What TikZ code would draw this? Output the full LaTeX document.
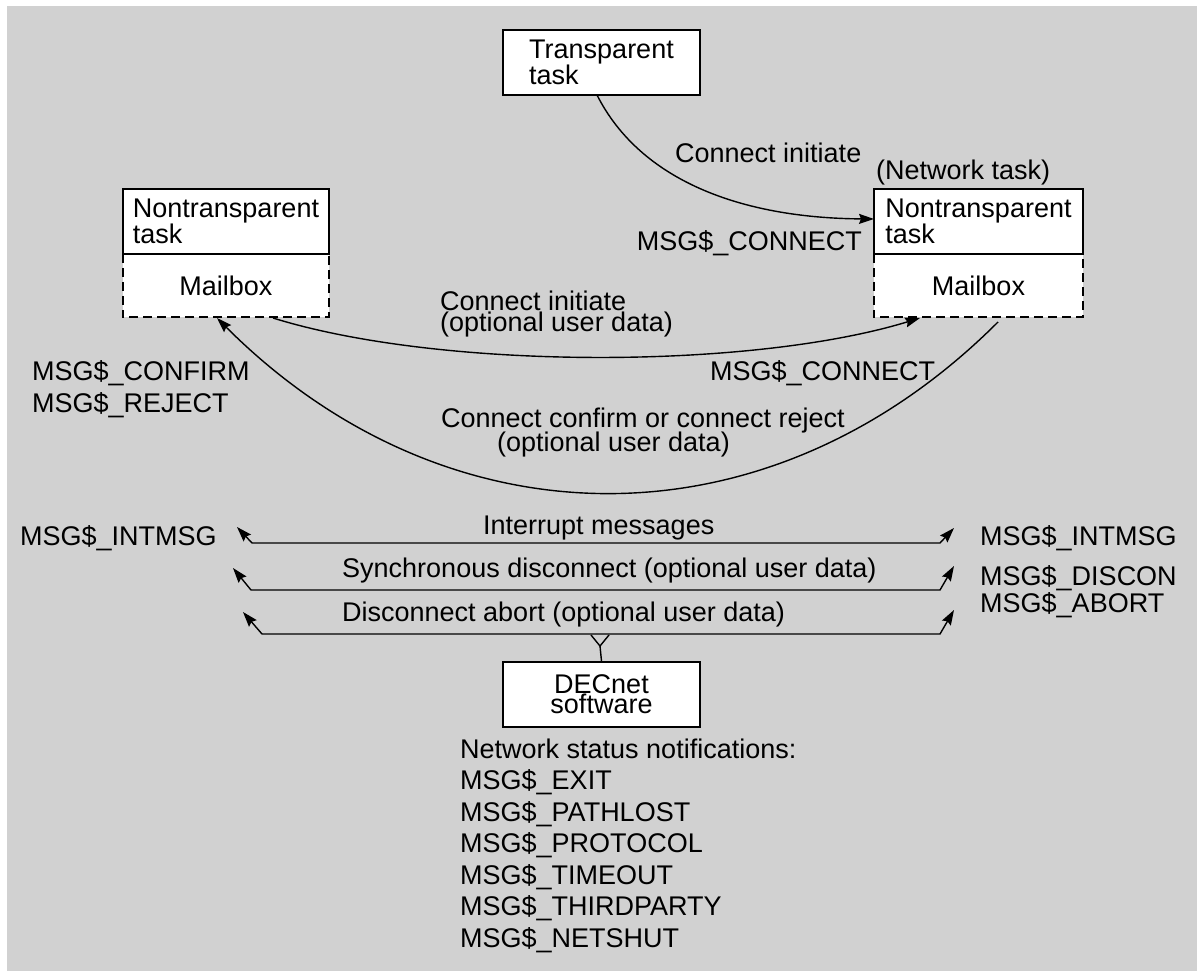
\documentclass[tikz,border=0pt]{standalone}
\usepackage{fontspec}
\setmainfont{Liberation Sans}
\usetikzlibrary{arrows.meta}
\begin{document}
\begin{tikzpicture}[x=1pt,y=-1pt,
  every node/.style={font=\fontsize{27}{20}\selectfont, inner sep=0pt},
  box/.style={draw, line width=1.8pt, fill=white, align=left, minimum height=65pt},
  mail/.style={fill=white, minimum height=63pt},
  dashedge/.style={line width=1.8pt, dash pattern=on 9pt off 5pt},
  lbl/.style={anchor=base west},
  conn/.style={line width=1.4pt},
  tip/.style={-{Stealth[length=15pt,width=10pt,inset=2pt]}},
  bitip/.style={{Stealth[length=15pt,width=10pt,inset=2pt]}-{Stealth[length=15pt,width=10pt,inset=2pt]}},
  ]
\useasboundingbox (0,0) rectangle (1197,971);
\fill[black!18] (7,6) rectangle (1197,971);

% boxes
\node[box, minimum width=197pt] (tt) at (601.5,62.5) {Transparent\\task};

\node[mail, minimum width=206pt] (lm) at (226,285.5) {Mailbox};
\draw[dashedge] (lm.north west) -- (lm.south west) -- (lm.south east) -- (lm.north east);
\node[box, minimum width=206pt] (lt) at (226,221.5) {Nontransparent\\task};

\node[mail, minimum width=209pt] (rm) at (978.5,285.5) {Mailbox};
\draw[dashedge] (rm.north west) -- (rm.south west) -- (rm.south east) -- (rm.north east);
\node[box, minimum width=209pt] (rt) at (978.5,221.5) {Nontransparent\\task};

\node[box, align=center, minimum width=197pt] (dec) at (601.5,694.5) {DECnet\\software};

% labels
\node[lbl] (l1) at (675,163) {Connect initiate};
\node[lbl] (l2) at (876,179) {(Network task)};
\node[anchor=base east] (l3) at (862,250) {MSG\$\_CONNECT};
\node[lbl] (l4) at (440,310) {Connect initiate};
\node[lbl] (l5) at (440,331) {(optional user data)};
\node[lbl] (l6) at (710,380) {MSG\$\_CONNECT};
\node[lbl] (l7) at (32,380) {MSG\$\_CONFIRM};
\node[lbl] (l8) at (32,412) {MSG\$\_REJECT};
\node[anchor=base east] (l9) at (845,427) {Connect confirm or connect reject};
\node[anchor=base east] (l10) at (730,451) {(optional user data)};
\node[lbl] (l11) at (483,534) {Interrupt messages};
\node[lbl] (l12) at (20,545) {MSG\$\_INTMSG};
\node[lbl] (l13) at (980,545) {MSG\$\_INTMSG};
\node[lbl] (l14) at (342,577) {Synchronous disconnect (optional user data)};
\node[lbl] (l15) at (980,585) {MSG\$\_DISCON};
\node[lbl] (l16) at (342,621) {Disconnect abort (optional user data)};
\node[lbl] (l17) at (980,612) {MSG\$\_ABORT};

\node[lbl] (n0) at (460,758) {Network status notifications:};
\node[lbl] (n1) at (460,789.5) {MSG\$\_EXIT};
\node[lbl] (n2) at (460,821) {MSG\$\_PATHLOST};
\node[lbl] (n3) at (460,852.5) {MSG\$\_PROTOCOL};
\node[lbl] (n4) at (460,884) {MSG\$\_TIMEOUT};
\node[lbl] (n5) at (460,915.5) {MSG\$\_THIRDPARTY};
\node[lbl] (n6) at (460,947) {MSG\$\_NETSHUT};

% connector end points
\coordinate (c1s) at (597,95);
\coordinate (c1e) at (874,219);
\coordinate (c2s) at (273,318);
\coordinate (c2e) at (920,318);
\coordinate (c3s) at (998,322);
\coordinate (c3e) at (217,318);

\draw[conn, tip] (c1s) .. controls (640,180) and (740,218) .. (c1e);
\draw[conn, tip] (c2s) .. controls (440,370) and (750,370) .. (c2e);
\draw[conn, tip] (c3s) .. controls (768,552) and (447,548) .. (c3e);

% horizontal message lines
\coordinate (a1) at (237,527); \coordinate (a2) at (252,543);
\coordinate (a3) at (940,543); \coordinate (a4) at (954,528);
\coordinate (b1) at (233,568); \coordinate (b2) at (251,590);
\coordinate (b3) at (940,590); \coordinate (b4) at (954,566);
\coordinate (d1) at (243,612); \coordinate (d2) at (262,634);
\coordinate (d3) at (940,634); \coordinate (d4) at (954,610);
\draw[conn, bitip] (a1) -- (a2) -- (a3) -- (a4);
\draw[conn, bitip] (b1) -- (b2) -- (b3) -- (b4);
\draw[conn, bitip] (d1) -- (d2) -- (d3) -- (d4);

\coordinate (j) at (600,646);
\coordinate (jl) at (591,635);
\coordinate (jr) at (609,635);
\draw[conn] (dec.north) -- (j);
\draw[conn] (jl) -- (j) -- (jr);
\end{tikzpicture}
\end{document}
